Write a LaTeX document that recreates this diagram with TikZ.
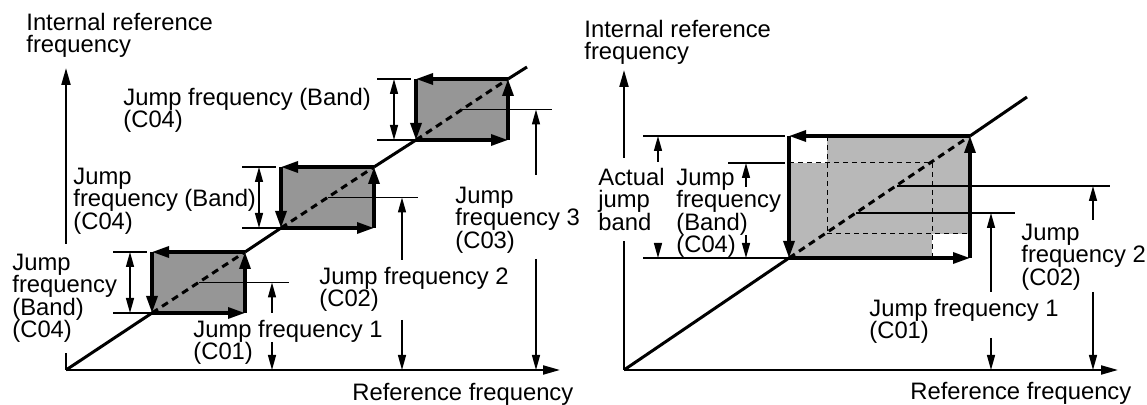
\documentclass[tikz,border=0pt]{standalone}
\usepackage{fontspec}
\setmainfont{Liberation Sans}
\usepackage{tikz}
\usetikzlibrary{arrows.meta}
\definecolor{bandgray}{HTML}{969696}
\definecolor{lightband}{HTML}{B8B8B8}

\begin{document}
\begin{tikzpicture}[x=0.5pt,y=-0.5pt,font=\fontsize{11.9}{11.3}\selectfont,
  lbl/.style={inner sep=0pt,align=left,anchor=base west},
  lblbox/.style={lbl,fill=white,inner sep=5pt},
  axisline/.style={line width=1pt,-{Triangle[length=8.5pt,width=4.5pt]}},
  tick/.style={line width=0.7pt},
  dim/.style={line width=0.7pt,-{Triangle[length=7.5pt,width=4pt]}},
  dimboth/.style={line width=0.7pt,{Triangle[length=7.5pt,width=4pt]}-{Triangle[length=7.5pt,width=4pt]}},
  loopedge/.style={line width=1.6pt,-{Triangle[length=8.5pt,width=5.5pt]}},
  ramp/.style={line width=1.5pt},
  dashramp/.style={line width=1.5pt,dash pattern=on 3.5pt off 2.5pt},
  guideline/.style={line width=0.5pt,dash pattern=on 2.5pt off 2pt}]
\useasboundingbox (0,0) rectangle (1147,405);

% left: three jump bands
\coordinate (lo) at (66,370);
\draw[axisline] (lo) -- (66,68);
\draw[axisline] (lo) -- (560,370);
% base anchor sits on the last line
\node[lblbox] (lband1) at (2,338) {Jump\\frequency\\(Band)\\(C04)};
\foreach \xa/\ya/\xb/\yb in {152/313/245/252,281/228/374/167,416/140/508/79}{
  \fill[bandgray] (\xa,\yb) rectangle (\xb,\ya);
  \draw[dashramp] (\xa,\ya) -- (\xb,\yb);
  \draw[loopedge] (\xa,\ya) -- (\xb,\ya);
  \draw[loopedge] (\xb,\ya) -- (\xb,\yb);
  \draw[loopedge] (\xb,\yb) -- (\xa,\yb);
  \draw[loopedge] (\xa,\yb) -- (\xa,\ya);
  \draw[tick] (\xa-39,\yb) -- (\xa-5,\yb) (\xa-39,\ya) -- (\xa,\ya);
  \draw[dimboth] (\xa-22,\yb) -- (\xa-22,\ya);
  \draw[tick] ({(\xa+\xb)/2},{(\ya+\yb)/2}) -- ({(\xa+\xb)/2+90},{(\ya+\yb)/2});
}
\draw[ramp] (lo) -- (152,313) (245,252) -- (281,228) (374,167) -- (416,140) (508,79) -- (527,67);
\draw[dim] (272,313) -- (272,282.5);
\draw[dim] (272,342) -- (272,370);
\draw[dim] (402,260) -- (402,197.5);
\draw[dim] (402,320) -- (402,370);
\draw[dim] (536,175) -- (536,109.5);
\draw[dim] (536,259) -- (536,370);
\node[lbl] (lyaxis) at (26,53) {Internal reference\\frequency};
\node[lbl] (lband3) at (123,128) {Jump frequency (Band)\\(C04)};
\node[lbl] (lband2) at (73,229.5) {Jump\\frequency (Band)\\(C04)};
\node[lbl] (ljump1) at (193,360) {Jump frequency 1\\(C01)};
\node[lbl] (ljump2) at (319,307) {Jump frequency 2\\(C02)};
\node[lbl] (ljump3) at (455,248.5) {Jump\\frequency 3\\(C03)};
\node[lbl] (lxaxis) at (352,401) {Reference frequency};

% right: overlapping bands
\coordinate (ro) at (624,370);
\draw[axisline] (ro) -- (624,70);
\draw[axisline] (ro) -- (1118,370);
\node[lblbox] (ractual) at (588,230.5) {Actual\\jump\\band};
\fill[lightband] (789,136) rectangle (970,258);
\fill[white] (789,136) rectangle (827,163);
\fill[white] (932,234) rectangle (970,258);
\draw[guideline] (827,136) -- (827,234) (789,163) -- (932,163);
\draw[guideline] (932,163) -- (932,258) (827,234) -- (970,234);
\draw[dashramp] (789,258) -- (970,136);
\draw[loopedge] (789,258) -- (970,258);
\draw[loopedge] (970,258) -- (970,136);
\draw[loopedge] (970,136) -- (789,136);
\draw[loopedge] (789,136) -- (789,258);
\draw[ramp] (ro) -- (789,258) (970,136) -- (1027,97);
\draw[tick] (643,136) -- (785,136) (728,163) -- (785,163) (643,258) -- (789,258);
\draw[dim] (658,162) -- (658,136);
\draw[dim] (658,243) -- (658,258);
\draw[dim] (746,187) -- (746,163);
\draw[dim] (746,235) -- (746,258);
\draw[tick] (897,186) -- (1110,186) (856,213) -- (1015,213);
\draw[dim] (1093,220) -- (1093,186);
\draw[dim] (1093,292) -- (1093,370);
\draw[dim] (991,292) -- (991,213);
\draw[dim] (991,338) -- (991,370);
\node[lbl] (ryaxis) at (584,60) {Internal reference\\frequency};
\node[lbl] (rband) at (676,253) {Jump\\frequency\\(Band)\\(C04)};
\node[lbl] (rjump2) at (1021,285.5) {Jump\\frequency 2\\(C02)};
\node[lbl] (rjump1) at (869,339) {Jump frequency 1\\(C01)};
\node[lbl] (rxaxis) at (910,400) {Reference frequency};
\end{tikzpicture}
\end{document}
